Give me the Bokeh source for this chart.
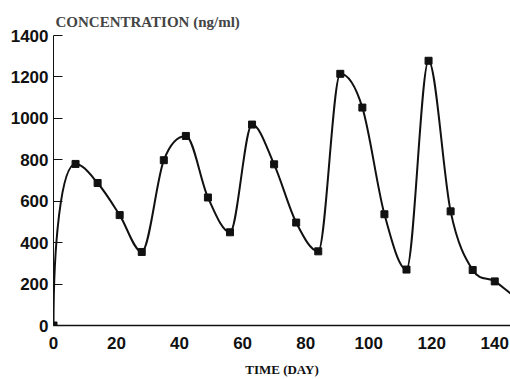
from bokeh.plotting import figure
from bokeh.models import FixedTicker, ColumnDataSource
from bokeh.embed import file_html
from bokeh.resources import INLINE

# ---- data ----
days = [0, 7, 14, 21, 28, 35, 42, 49, 56, 63, 70, 77, 84, 91, 98, 105, 112, 119, 126, 133, 140]
conc = [0, 780, 688, 533, 355, 798, 915, 618, 450, 970, 778, 497, 358, 1215, 1052, 537, 270, 1278, 551, 268, 213]
tail_day = [145]
tail_conc = [155]
x_ticks = [0, 20, 40, 60, 80, 100, 120, 140]
y_ticks = [0, 200, 400, 600, 800, 1000, 1200, 1400]

# ---- smooth curve through the points (cubic Hermite -> Bezier segments) ----
cx = days + tail_day
cy = conc + tail_conc
n = len(cx)
d = [(cy[i + 1] - cy[i]) / (cx[i + 1] - cx[i]) for i in range(n - 1)]
m = [0.0] * n
m[-1] = d[-1]
for i in range(1, n - 1):
    if d[i - 1] * d[i] <= 0:
        m[i] = 0.0
    else:
        m[i] = (d[i - 1] + d[i]) / 2.0

seg = dict(x0=[], y0=[], x1=[], y1=[], cx0=[], cy0=[], cx1=[], cy1=[])
for i in range(n - 1):
    x0, y0, x1, y1 = cx[i], cy[i], cx[i + 1], cy[i + 1]
    h = x1 - x0
    if i == 0:
        # near-vertical rise from the origin
        c0x, c0y = x0, y0 + 0.5 * (y1 - y0)
        c1x, c1y = x1 - 0.65 * h, y1
    else:
        c0x, c0y = x0 + h / 3.0, y0 + m[i] * h / 3.0
        c1x, c1y = x1 - h / 3.0, y1 - m[i + 1] * h / 3.0
    seg["x0"].append(x0); seg["y0"].append(y0)
    seg["x1"].append(x1); seg["y1"].append(y1)
    seg["cx0"].append(c0x); seg["cy0"].append(c0y)
    seg["cx1"].append(c1x); seg["cy1"].append(c1y)

p = figure(width=510, height=379, x_range=(0, 145), y_range=(0, 1400),
           output_backend="svg", toolbar_location=None,
           min_border_left=53, min_border_right=0, min_border_top=35, min_border_bottom=54)

p.title.text = "CONCENTRATION (ng/ml)"
p.title.text_font = "Liberation Serif"
p.title.text_font_style = "bold"
p.title.text_font_size = "15px"
p.title.align = "left"
p.title.offset = 2
p.title.standoff = 12

p.bezier(source=ColumnDataSource(seg), x0="x0", y0="y0", x1="x1", y1="y1",
         cx0="cx0", cy0="cy0", cx1="cx1", cy1="cy1", line_color="#111111", line_width=2)
p.scatter(days, conc, marker="square", size=7, color="#111111")

p.xgrid.visible = False
p.ygrid.visible = False
p.outline_line_color = None

for ax in (p.xaxis[0], p.yaxis[0]):
    ax.major_label_text_font = "Liberation Sans"
    ax.major_label_text_font_style = "bold"
    ax.major_label_text_font_size = "17px"
    ax.major_label_text_color = "#111111"
    ax.axis_line_color = "#111111"
    ax.major_tick_line_color = "#111111"
    ax.minor_tick_line_color = None

p.xaxis.ticker = FixedTicker(ticks=x_ticks)
p.yaxis.ticker = FixedTicker(ticks=y_ticks)
p.xaxis.major_tick_in = 0
p.xaxis.major_tick_out = 0
p.xaxis.axis_line_width = 1.5
p.xaxis.major_label_standoff = 11
p.xaxis.axis_label = "TIME (DAY)"
p.xaxis.axis_label_text_font = "Liberation Serif"
p.xaxis.axis_label_text_font_style = "bold"
p.xaxis.axis_label_text_font_size = "13px"
p.xaxis.axis_label_text_color = "#111111"
p.xaxis.axis_label_standoff = 10

p.yaxis.major_tick_in = 9
p.yaxis.major_tick_out = 0
p.yaxis.major_label_standoff = 5

open("out.html", "w").write(file_html(p, INLINE))
